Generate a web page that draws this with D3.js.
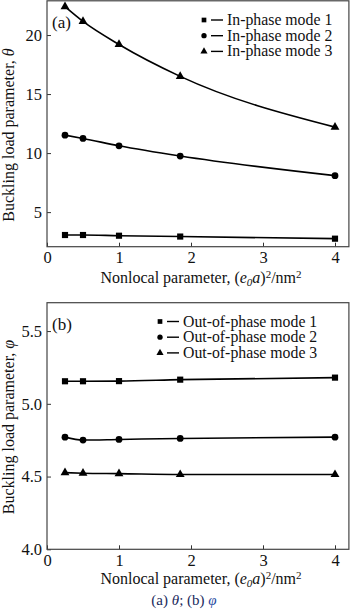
<!DOCTYPE html>
<html>
<head>
<meta charset="utf-8">
<script src="https://cdn.jsdelivr.net/npm/d3@7"></script>
<style>
  html, body { margin: 0; padding: 0; background: #fff; }
  svg { display: block; }
  text { font-family: "Liberation Serif", "Times New Roman", serif; fill: #111; }
</style>
</head>
<body>
<svg id="chart" width="350" height="615"></svg>
<script>
// Nonlocal parameter (e0a)^2 in nm^2
const nonlocal = [0.25, 0.5, 1, 1.85, 4];

// (a) in-phase buckling load parameter θ
const inPhase1 = [3.06, 3.06, 3.00, 2.93, 2.75];
const inPhase2 = [11.52, 11.24, 10.62, 9.75, 8.09];
const inPhase3 = [22.4, 21.15, 19.2, 16.5, 12.2];

// (b) out-of-phase buckling load parameter φ
const outPhase1 = [5.155, 5.155, 5.156, 5.166, 5.18];
const outPhase2 = [4.771, 4.751, 4.755, 4.762, 4.771];
const outPhase3 = [4.527, 4.523, 4.520, 4.514, 4.514];

const xTicks = [0, 1, 2, 3, 4];
const yTicksA = [5, 10, 15, 20];
const yTicksB = [4.0, 4.5, 5.0, 5.5];

const legendA = ["In-phase mode 1", "In-phase mode 2", "In-phase mode 3"];
const legendB = ["Out-of-phase mode 1", "Out-of-phase mode 2", "Out-of-phase mode 3"];
const symbols = [d3.symbolSquare, d3.symbolCircle, d3.symbolTriangle];
const symbolSizes = [38, 36, 34];

const svg = d3.select("#chart");

function panel(opts) {
  const { top, bottom, yDomain, yTicks, yFmt, series, legend, tag, yLabelSym, yLabelY, xLabelY, legendX, legendY } = opts;
  const left = 47, right = 349.4;
  const x = d3.scaleLinear().domain([0, 4.2]).range([left, right]);
  const y = d3.scaleLinear().domain(yDomain).range([bottom, top]);
  const g = svg.append("g");

  // axes with inward ticks
  const xAxis = g.append("g").attr("transform", `translate(0,${bottom})`)
    .call(d3.axisBottom(x).tickValues(xTicks).tickSizeInner(-4).tickSizeOuter(0).tickPadding(5).tickFormat(d3.format("d")));
  const yAxis = g.append("g").attr("transform", `translate(${left},0)`)
    .call(d3.axisLeft(y).tickValues(yTicks).tickSizeInner(-4).tickSizeOuter(0).tickPadding(5).tickFormat(yFmt));
  [xAxis, yAxis].forEach(a => {
    a.select(".domain").remove();
    a.selectAll(".tick line").attr("stroke", "#333").attr("stroke-width", 1);
    a.selectAll(".tick text").style("font-family", '"Liberation Serif", serif')
      .style("font-size", "16.5px").attr("fill", "#111");
  });

  // frame
  g.append("rect").attr("x", left).attr("y", top).attr("width", right - left - 0.5).attr("height", bottom - top)
    .attr("fill", "none").attr("stroke", "#444").attr("stroke-width", 1.2);

  // lines and markers
  const line = d3.line().x((d, i) => x(nonlocal[i])).y(d => y(d)).curve(d3.curveMonotoneX);
  series.forEach((s, k) => {
    g.append("path").datum(s).attr("d", line).attr("fill", "none")
      .attr("stroke", "#000").attr("stroke-width", 1.6);
    g.selectAll(null).data(s).enter().append("path")
      .attr("d", d3.symbol().type(symbols[k]).size(symbolSizes[k]))
      .attr("transform", (d, i) => `translate(${x(nonlocal[i])},${y(d)})`)
      .attr("fill", "#000");
  });

  // panel tag
  g.append("text").attr("x", 52).attr("y", top + 27).style("font-size", "17px").text(tag);

  // legend
  legend.forEach((name, k) => {
    const ly = legendY + k * 15.7;
    g.append("path").attr("d", d3.symbol().type(symbols[k]).size(22))
      .attr("transform", `translate(${legendX},${ly})`).attr("fill", "#000");
    g.append("line").attr("x1", legendX + 7).attr("x2", legendX + 19).attr("y1", ly).attr("y2", ly)
      .attr("stroke", "#000").attr("stroke-width", 1.4);
    g.append("text").attr("x", legendX + 23).attr("y", ly + 5).style("font-size", "15.8px").text(name);
  });

  // y label
  const yl = g.append("text").attr("transform", `translate(14,${yLabelY}) rotate(-90)`)
    .attr("text-anchor", "middle").style("font-size", "16px");
  yl.append("tspan").text("Buckling load parameter, ");
  yl.append("tspan").style("font-style", "italic").text(yLabelSym);

  // x label
  const xl = g.append("text").attr("x", 201).attr("y", xLabelY).attr("text-anchor", "middle").style("font-size", "16px");
  xl.append("tspan").text("Nonlocal parameter, (");
  xl.append("tspan").style("font-style", "italic").text("e");
  xl.append("tspan").style("font-style", "italic").style("font-size", "11px").attr("dy", 3).text("0");
  xl.append("tspan").style("font-style", "italic").attr("dy", -3).text("a");
  xl.append("tspan").text(")");
  xl.append("tspan").style("font-size", "11px").attr("dy", -5.5).text("2");
  xl.append("tspan").attr("dy", 5.5).text("/nm");
  xl.append("tspan").style("font-size", "11px").attr("dy", -5.5).text("2");
}

panel({
  top: 0.8, bottom: 246.7, yDomain: [2.07, 22.9], yTicks: yTicksA, yFmt: d3.format("d"),
  series: [inPhase1, inPhase2, inPhase3], legend: legendA, tag: "(a)",
  yLabelSym: "θ", yLabelY: 135, xLabelY: 283, legendX: 204, legendY: 20
});

panel({
  top: 302.7, bottom: 549.3, yDomain: [4.0, 5.695], yTicks: yTicksB, yFmt: d3.format(".1f"),
  series: [outPhase1, outPhase2, outPhase3], legend: legendB, tag: "(b)",
  yLabelSym: "φ", yLabelY: 427, xLabelY: 584, legendX: 160, legendY: 321.5
});

// caption
const cap = svg.append("text").attr("x", 184).attr("y", 605).attr("text-anchor", "middle")
  .style("font-size", "15px");
cap.append("tspan").attr("fill", "#1b2a5c").text("(a) ");
cap.append("tspan").attr("fill", "#1b2a5c").style("font-style", "italic").text("θ");
cap.append("tspan").attr("fill", "#1b2a5c").text("; (b) ");
cap.append("tspan").attr("fill", "#2748a0").style("font-style", "italic").text("φ");
</script>
</body>
</html>
